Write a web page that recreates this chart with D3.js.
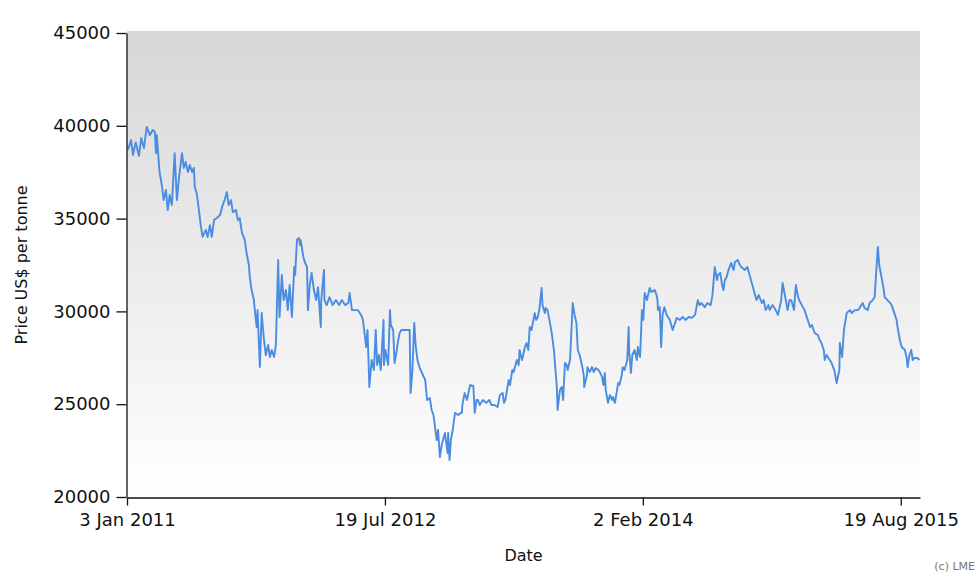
<!DOCTYPE html>
<html>
<head>
<meta charset="utf-8">
<script src="https://cdn.jsdelivr.net/npm/d3@7"></script>
<style>
  html, body { margin: 0; padding: 0; background: #ffffff; }
  svg { display: block; }
  text { font-family: "DejaVu Sans", Verdana, sans-serif; fill: #111; }
</style>
</head>
<body>
<svg id="chart" width="980" height="585"></svg>
<script>
// ---- Data ----
const dates = [
"2011-01-05","2011-01-12","2011-01-16","2011-01-22","2011-01-29","2011-02-03","2011-02-09","2011-02-15","2011-02-22","2011-02-28",
"2011-03-05","2011-03-07","2011-03-09","2011-03-13","2011-03-15","2011-03-20","2011-03-24","2011-03-29","2011-04-02","2011-04-06",
"2011-04-11","2011-04-17","2011-04-22","2011-04-26","2011-05-03","2011-05-07","2011-05-11","2011-05-16","2011-05-20","2011-05-25",
"2011-05-29","2011-05-31","2011-06-04","2011-06-09","2011-06-13","2011-06-17","2011-06-24","2011-06-28","2011-07-03","2011-07-07",
"2011-07-12","2011-07-18","2011-07-25","2011-07-31","2011-08-04","2011-08-09","2011-08-13","2011-08-18","2011-08-22","2011-08-29",
"2011-09-02","2011-09-06","2011-09-11","2011-09-17","2011-09-21","2011-09-26","2011-09-28","2011-10-02","2011-10-07","2011-10-09",
"2011-10-13","2011-10-15","2011-10-20","2011-10-24","2011-10-29","2011-11-02","2011-11-07","2011-11-11","2011-11-15","2011-11-20",
"2011-11-24","2011-11-29","2011-12-01","2011-12-02","2011-12-07","2011-12-11","2011-12-16","2011-12-20","2011-12-24","2011-12-29",
"2012-01-03","2012-01-05","2012-01-09","2012-01-13","2012-01-16","2012-01-17","2012-01-23","2012-01-26","2012-01-31","2012-02-02",
"2012-02-06","2012-02-10","2012-02-15","2012-02-20","2012-02-24","2012-03-01","2012-03-02","2012-03-08","2012-03-09","2012-03-14",
"2012-03-20","2012-03-27","2012-04-03","2012-04-10","2012-04-16","2012-04-23","2012-04-30","2012-05-03","2012-05-08","2012-05-14",
"2012-05-21","2012-05-28","2012-06-01","2012-06-05","2012-06-08","2012-06-11","2012-06-15","2012-06-20","2012-06-25","2012-06-29",
"2012-07-02","2012-07-06","2012-07-10","2012-07-16","2012-07-17","2012-07-20","2012-07-26","2012-07-30","2012-08-01","2012-08-06",
"2012-08-09","2012-08-14","2012-08-16","2012-08-20","2012-08-24","2012-09-03","2012-09-11","2012-09-13","2012-09-17","2012-09-21",
"2012-09-24","2012-09-28","2012-10-03","2012-10-08","2012-10-15","2012-10-19","2012-10-25","2012-10-29","2012-11-02","2012-11-09",
"2012-11-12","2012-11-16","2012-11-20","2012-11-27","2012-11-29","2012-12-03","2012-12-04","2012-12-07","2012-12-10","2012-12-14",
"2012-12-19","2012-12-26","2012-12-31",
"2013-01-03","2013-01-04","2013-01-09","2013-01-14","2013-01-21","2013-01-28","2013-01-31","2013-02-04","2013-02-07","2013-02-11",
"2013-02-18","2013-02-25","2013-03-04","2013-03-08","2013-03-15","2013-03-22","2013-03-27","2013-04-02","2013-04-05","2013-04-08",
"2013-04-15","2013-04-18","2013-04-23","2013-04-26","2013-05-03","2013-05-07","2013-05-09","2013-05-14","2013-05-16","2013-05-20",
"2013-05-24","2013-05-28","2013-05-31","2013-06-04","2013-06-11","2013-06-14","2013-06-17","2013-06-21","2013-06-26","2013-06-28",
"2013-07-03","2013-07-05","2013-07-09","2013-07-15","2013-07-18","2013-07-23","2013-07-25","2013-07-29","2013-07-31","2013-08-05",
"2013-08-09","2013-08-12","2013-08-16","2013-08-20","2013-08-22","2013-08-27","2013-09-02","2013-09-06","2013-09-10","2013-09-13",
"2013-09-17","2013-09-23","2013-09-26","2013-09-27","2013-10-03","2013-10-04","2013-10-09","2013-10-14","2013-10-18","2013-10-22",
"2013-10-28","2013-10-31","2013-11-05","2013-11-08","2013-11-11","2013-11-13","2013-11-18","2013-11-22","2013-11-27","2013-11-29",
"2013-12-03","2013-12-06","2013-12-10","2013-12-13","2013-12-18","2013-12-20","2013-12-24","2013-12-30",
"2014-01-02","2014-01-03","2014-01-07","2014-01-10","2014-01-15","2014-01-20","2014-01-22","2014-01-27","2014-01-31","2014-02-03",
"2014-02-06","2014-02-11","2014-02-17","2014-02-21","2014-02-28","2014-03-04","2014-03-06","2014-03-07","2014-03-11","2014-03-14",
"2014-03-17","2014-03-21","2014-03-26","2014-04-02","2014-04-08","2014-04-14","2014-04-17","2014-04-24","2014-04-30","2014-05-07",
"2014-05-13","2014-05-20","2014-05-27","2014-06-02","2014-06-06","2014-06-10","2014-06-17","2014-06-23","2014-06-30","2014-07-04",
"2014-07-09","2014-07-14","2014-07-16","2014-07-21","2014-07-25","2014-07-28","2014-07-31","2014-08-04","2014-08-08","2014-08-14",
"2014-08-19","2014-08-22","2014-08-28","2014-09-02","2014-09-05","2014-09-12","2014-09-18","2014-09-23","2014-09-26","2014-10-02",
"2014-10-08","2014-10-13","2014-10-20","2014-10-24","2014-10-28","2014-11-03","2014-11-06","2014-11-12","2014-11-19","2014-11-24",
"2014-12-01","2014-12-04","2014-12-09","2014-12-15","2014-12-19","2014-12-23","2014-12-29",
"2015-01-02","2015-01-06","2015-01-09","2015-01-15","2015-01-21","2015-01-28","2015-02-02","2015-02-06","2015-02-12","2015-02-19",
"2015-02-23","2015-02-27","2015-03-04","2015-03-06","2015-03-10","2015-03-17","2015-03-20","2015-03-27","2015-04-01","2015-04-07",
"2015-04-08","2015-04-13","2015-04-17","2015-04-23","2015-04-30","2015-05-04","2015-05-11","2015-05-18","2015-05-22","2015-05-28",
"2015-06-01","2015-06-08","2015-06-12","2015-06-19","2015-06-23","2015-06-26","2015-06-30","2015-07-03","2015-07-08","2015-07-13",
"2015-07-15","2015-07-21","2015-07-27","2015-07-30","2015-08-05","2015-08-10","2015-08-12","2015-08-17","2015-08-21","2015-08-28",
"2015-09-01","2015-09-03","2015-09-07","2015-09-11","2015-09-14","2015-09-18","2015-09-24","2015-09-29"
];
const prices = [
38700,39230,38430,39100,38380,39340,38800,39940,39500,39770,
39670,38530,39500,38150,37510,36810,36000,36540,35460,36270,
35730,38530,36000,37080,38530,37730,38050,37510,37890,37510,
37730,36700,36380,35460,34650,34010,34390,34010,34650,34010,
34920,35030,35190,35730,36000,36430,35730,36000,35350,35460,
34920,35030,34230,33850,33150,32500,31850,31150,30610,30070,
29160,30070,27000,29910,28460,27650,28190,27540,27920,27540,
28190,32770,30610,29700,31960,30610,31150,30070,31420,29700,
32400,31960,33850,33960,33580,33850,32930,32660,32400,30070,
31420,32070,31150,30610,31310,29160,30610,32230,30610,30340,
30770,30340,30610,30340,30610,30340,30450,30990,30070,30070,
30070,29810,29540,28730,28080,29000,25930,27380,26840,29000,
27110,27650,26840,29540,27110,27920,27110,30070,29270,29000,
27220,27920,28300,28840,29000,29000,29000,25600,26840,29380,
28190,27380,26950,26680,26300,25230,25330,24690,24420,23070,
23610,22150,22800,23450,23070,22370,23450,21990,23070,23610,
24530,24420,24530,
24530,24960,25600,25230,26030,25980,24530,25230,25230,24960,
25230,25070,25230,24960,24960,24850,25500,25600,25070,25230,
26300,26030,26840,26730,27380,27110,27920,27380,27540,28030,
28300,27920,29160,29000,29910,29540,29650,30070,31260,30340,
29910,30180,30070,29270,28840,27920,27220,26030,24690,25770,
25930,25230,27220,27110,26840,27380,30450,29810,29380,27920,
27650,27000,26570,25930,26570,27000,26730,27000,26730,26950,
26840,26730,26470,26030,26680,25770,25070,25500,25230,25390,
25070,25500,26140,26030,26570,27000,26840,27380,
29160,27920,26680,27650,27920,27380,28080,27540,30070,29540,
30990,30610,31260,31040,31150,30880,30610,30070,30230,28080,
29810,30230,29810,29540,29000,29430,29650,29540,29700,29540,
29700,29650,29810,30610,30340,30450,30230,30450,30340,30880,
32390,31690,31960,32070,31420,31150,31690,31850,32230,32610,
32230,32660,32770,32500,32390,32230,32390,31960,31690,31150,
30610,30880,30450,30610,30070,30340,30070,30340,30070,29810,
30610,31530,30880,30070,30610,30610,30070,
31420,30880,30610,30340,30070,29540,29160,29270,28840,28730,
28460,28300,27920,27380,27650,27380,27270,26840,26140,26840,
28300,27540,29000,29910,30070,29910,30070,30070,30230,30450,
30180,30070,30450,30610,30770,31960,33470,32500,31850,31150,
30770,30610,30450,30340,29910,29540,29160,28460,28080,27920,
27490,27000,27650,27920,27380,27490,27490,27380
];
const yTicks = [20000, 25000, 30000, 35000, 40000, 45000];
const xTickDates = ["2011-01-03", "2012-07-19", "2014-02-02", "2015-08-19"];
const xDomainDates = ["2011-01-03", "2015-09-30"];

// ---- Chart ----
const parse = d3.timeParse("%Y-%m-%d");
const data = dates.map((d, i) => ({ date: parse(d), value: prices[i] }))
  .filter(d => d.date && Number.isFinite(d.value));

const svg = d3.select("#chart");
const plotL = 127, plotR = 920, plotT = 33, plotB = 497;

const x = d3.scaleTime().domain(xDomainDates.map(parse)).range([plotL, plotR]);
const y = d3.scaleLinear().domain([20000, 45000]).range([plotB, plotT]);

const defs = svg.append("defs");
const grad = defs.append("linearGradient")
  .attr("id", "bg").attr("x1", 0).attr("y1", 0).attr("x2", 0).attr("y2", 1);
grad.append("stop").attr("offset", "0%").attr("stop-color", "#d7d7d7");
grad.append("stop").attr("offset", "100%").attr("stop-color", "#ffffff");

svg.append("rect")
  .attr("x", plotL).attr("y", plotT - 2)
  .attr("width", plotR - plotL).attr("height", plotB - plotT + 2)
  .attr("fill", "url(#bg)");

const line = d3.line().x(d => x(d.date)).y(d => y(d.value));
svg.append("path")
  .datum(data)
  .attr("d", line)
  .attr("fill", "none")
  .attr("stroke", "#4a8ce0")
  .attr("stroke-width", 1.9)
  .attr("stroke-linejoin", "round");

const yAxis = d3.axisLeft(y).tickValues(yTicks).tickSize(10).tickSizeOuter(0).tickPadding(6).tickFormat(d3.format("d"));
const gy = svg.append("g").attr("transform", `translate(${plotL - 0.5},0)`).call(yAxis);
gy.selectAll("text").style("font-size", "18px").style("font-family", "DejaVu Sans, sans-serif").attr("fill", "#111");
gy.selectAll("line, path").attr("stroke", "#111").attr("stroke-width", 1.3);

const fmt = d3.timeFormat("%-d %b %Y");
const xAxis = d3.axisBottom(x).tickValues(xTickDates.map(parse)).tickSize(8).tickSizeOuter(0).tickPadding(8).tickFormat(fmt);
const gx = svg.append("g").attr("transform", `translate(0,${plotB + 0.5})`).call(xAxis);
gx.selectAll("text").style("font-size", "18px").style("font-family", "DejaVu Sans, sans-serif").attr("fill", "#111");
gx.selectAll("line, path").attr("stroke", "#111").attr("stroke-width", 1.3);

svg.append("text")
  .attr("x", (plotL + plotR) / 2).attr("y", 561)
  .attr("text-anchor", "middle")
  .style("font-size", "16px")
  .text("Date");

svg.append("text")
  .attr("transform", `translate(27,${(plotT + plotB) / 2}) rotate(-90)`)
  .attr("text-anchor", "middle")
  .style("font-size", "16px")
  .text("Price US$ per tonne");

svg.append("text")
  .attr("x", 975).attr("y", 570)
  .attr("text-anchor", "end")
  .style("font-size", "11px")
  .style("fill", "#777")
  .text("(c) LME");
</script>
</body>
</html>
